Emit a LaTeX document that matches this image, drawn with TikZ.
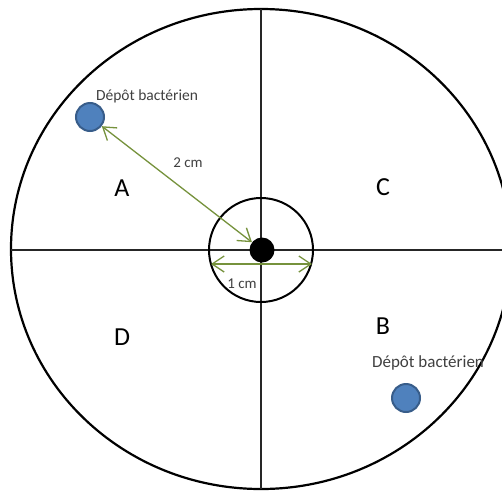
\documentclass[tikz,border=0pt]{standalone}
\usepackage{fontspec}
\setmainfont{Carlito}
\usetikzlibrary{arrows.meta}
\definecolor{dotblue}{HTML}{4F81BD}
\definecolor{dotedge}{HTML}{385D8A}
\definecolor{arrgreen}{HTML}{76923C}
\definecolor{txtgray}{HTML}{404040}
\tikzset{
  quad/.style={font=\fontsize{26}{26}\selectfont, text=black, inner sep=0pt},
  deplabel/.style={font=\fontsize{15.5}{16}\selectfont, text=txtgray, inner sep=0pt},
  measlabel/.style={font=\fontsize{15}{16}\selectfont, text=txtgray, inner sep=0pt},
  depot/.style={circle, fill=dotblue, draw=dotedge, line width=2pt, minimum size=28pt, inner sep=0pt},
  center dot/.style={circle, fill=black, minimum size=25pt, inner sep=0pt},
  measure/.style={arrgreen, line width=1.3pt, {Straight Barb[length=12pt,width=16pt]}-{Straight Barb[length=12pt,width=16pt]}},
}
\begin{document}
\begin{tikzpicture}[x=1pt,y=-1pt]
\useasboundingbox (0,0) rectangle (502,490);
\clip (0,0) rectangle (502,490);
\fill[white] (0,0) rectangle (502,490);
% big circle
\draw[line width=2.2pt] (261,249) ellipse [x radius=250, y radius=240];
% cross
\coordinate (top) at (261,9);
\coordinate (bot) at (261,489);
\coordinate (lft) at (11,250);
\coordinate (rgt) at (502,250);
\draw[line width=1.6pt, black!85] (top) -- (bot);
\draw[line width=1.6pt, black!85] (lft) -- (rgt);
% inner circle
\node[circle, draw, line width=2pt, minimum size=104pt, inner sep=0pt] (inner) at (261,250) {};
\node[center dot] (cdot) at (262,250) {};
% deposits
\node[depot] (d1) at (90,117) {};
\node[depot] (d2) at (406,398) {};
\node[deplabel] (l1) at (147,96) {Dépôt bactérien};
\node[deplabel, font=\fontsize{17}{18}\selectfont] (l2) at (428,363) {Dépôt bactérien};
% quadrant letters
\node[quad] (qA) at (122,188) {A};
\node[quad] (qC) at (383,187) {C};
\node[quad] (qD) at (122,337) {D};
\node[quad] (qB) at (383,326) {B};
% measures
\draw[measure] (d1) -- (cdot);
\node[measlabel] (m2) at (188,163) {2 cm};
\coordinate (hl) at (211,264);
\coordinate (hr) at (312,264);
\draw[measure] (hl) -- (hr);
\node[measlabel] (m1) at (242,284) {1 cm};
\end{tikzpicture}
\end{document}
